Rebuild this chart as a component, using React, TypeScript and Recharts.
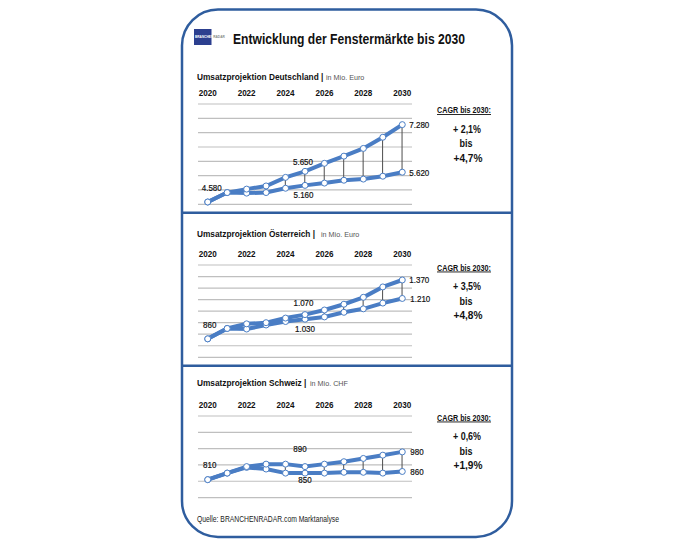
import React from "react";
import { ComposedChart, Line, Bar, XAxis, YAxis, CartesianGrid, LabelList } from "recharts";

const FONT = "'Liberation Sans', Arial, sans-serif";
const BLUE = "#4a7dc4";
const FRAME = "#2f5d9e";

const years = ["2020", "2021", "2022", "2023", "2024", "2025", "2026", "2027", "2028", "2029", "2030"];

// Deutschland, Mio. Euro
const deHigh = [4580, 4910, 5030, 5140, 5440, 5650, 5930, 6180, 6450, 6840, 7280];
const deLow = [4580, 4910, 4890, 4910, 5060, 5160, 5240, 5340, 5380, 5480, 5620];
const deTicks = [4500, 5000, 5500, 6000, 6500, 7000, 7500, 8000];

// Österreich, Mio. Euro
const atHigh = [860, 950, 990, 1000, 1040, 1070, 1110, 1160, 1220, 1310, 1370];
const atLow = [860, 950, 945, 980, 1010, 1030, 1050, 1090, 1120, 1170, 1210];
const atTicks = [700, 800, 900, 1000, 1100, 1200, 1300, 1400, 1500];

// Schweiz, Mio. CHF
const chHigh = [810, 850, 890, 905, 905, 890, 905, 920, 940, 960, 980];
const chLow = [810, 850, 885, 875, 850, 850, 850, 855, 855, 850, 860];
const chTicks = [700, 800, 900, 1000, 1100, 1200];

type Spot = [number, number, "start" | "middle" | "end"];
type LabelSpec = { high: Record<number, Spot>; low: Record<number, Spot> };

const fmt = (v: number) =>
  v >= 1000 ? `${Math.floor(v / 1000)}.${String(v % 1000).padStart(3, "0")}` : String(v);

// the original uses a condensed face, so squeeze the glyphs a bit
const squeeze = (s: string, digit: number) =>
  s.split("").reduce((w, c) => w + (c === "." ? digit * 0.5 : digit), 0);

function makeLabel(spots: Record<number, Spot>) {
  return (p: any) => {
    const s = spots[p.index];
    if (!s) return null;
    const txt = fmt(p.value);
    return (
      <text
        x={p.x + s[0]}
        y={p.y + s[1] + 3.3}
        textAnchor={s[2]}
        fontSize={9}
        fontFamily={FONT}
        fill="#111"
        stroke="#111"
        strokeWidth={0.2}
        textLength={squeeze(txt, 4.45)}
        lengthAdjust="spacingAndGlyphs"
      >
        {txt}
      </text>
    );
  };
}

function YearTick(p: any) {
  return (
    <text
      x={p.x}
      y={p.y}
      textAnchor="middle"
      fontSize={9.2}
      fontWeight={700}
      fontFamily={FONT}
      fill="#111"
      textLength={18}
      lengthAdjust="spacingAndGlyphs"
    >
      {p.payload.value}
    </text>
  );
}

function Panel({
  high,
  low,
  ticks,
  top,
  plotH,
  labels,
}: {
  high: number[];
  low: number[];
  ticks: number[];
  top: number;
  plotH: number;
  labels: LabelSpec;
}) {
  const data = years.map((y, i) => ({ year: y, high: high[i], low: low[i], hl: [low[i], high[i]] }));
  return (
    <div style={{ position: "absolute", left: 190, top: top - 40 }}>
      <ComposedChart
        width={250}
        height={plotH + 50}
        data={data}
        margin={{ top: 10, right: 28, bottom: 10, left: 8 }}
      >
        <CartesianGrid vertical={false} stroke="#bfbfbf" strokeWidth={1.2} />
        <XAxis
          dataKey="year"
          orientation="top"
          height={30}
          axisLine={false}
          tickLine={false}
          tickSize={0}
          tickMargin={7.5}
          interval={1}
          tick={<YearTick />}
        />
        <YAxis hide interval={0} domain={[ticks[0], ticks[ticks.length - 1]]} ticks={ticks} />
        <Bar dataKey="hl" barSize={1} fill="#4d4d4d" isAnimationActive={false} />
        <Line
          dataKey="low"
          stroke={BLUE}
          strokeWidth={4}
          dot={{ r: 3, fill: "#fff", stroke: BLUE, strokeWidth: 1 }}
          activeDot={false}
          isAnimationActive={false}
        >
          <LabelList dataKey="low" content={makeLabel(labels.low)} />
        </Line>
        <Line
          dataKey="high"
          stroke={BLUE}
          strokeWidth={4}
          dot={{ r: 3, fill: "#fff", stroke: BLUE, strokeWidth: 1 }}
          activeDot={false}
          isAnimationActive={false}
        >
          <LabelList dataKey="high" content={makeLabel(labels.high)} />
        </Line>
      </ComposedChart>
    </div>
  );
}

// name and unit as separate texts, sized so their natural widths do not collide
function Subtitle({ y, name, unit, unitX }: { y: number; name: string; unit: string; unitX: number }) {
  return (
    <g fontFamily={FONT}>
      <text x={197} y={y} fontSize={8.3} fontWeight={700} fill="#111">
        {name} |
      </text>
      <text x={unitX} y={y} fontSize={7.2} fill="#555">
        {unit}
      </text>
    </g>
  );
}

function Cagr({ y, from, to }: { y: number[]; from: string; to: string }) {
  return (
    <g fontFamily={FONT} fontWeight={700} fill="#111" textAnchor="middle">
      <text x={464} y={y[0]} fontSize={9} textDecoration="underline" textLength={54} lengthAdjust="spacingAndGlyphs">
        CAGR bis 2030:
      </text>
      <text x={467} y={y[1]} fontSize={11} textLength={28} lengthAdjust="spacingAndGlyphs">
        {from}
      </text>
      <text x={466} y={y[2]} fontSize={11} textLength={13} lengthAdjust="spacingAndGlyphs">
        bis
      </text>
      <text x={468} y={y[3]} fontSize={11} textLength={29} lengthAdjust="spacingAndGlyphs">
        {to}
      </text>
    </g>
  );
}

export default function App() {
  return (
    <div style={{ position: "absolute", left: 0, top: 0, width: 690, height: 546, background: "#fff" }}>
      <Panel
        high={deHigh}
        low={deLow}
        ticks={deTicks}
        top={104}
        plotH={100.3}
        labels={{
          high: { 0: [4, -14.6, "middle"], 5: [-2, -10, "middle"], 10: [7, 0, "start"] },
          low: { 5: [-1.5, 9, "middle"], 10: [7, 0, "start"] },
        }}
      />
      <Panel
        high={atHigh}
        low={atLow}
        ticks={atTicks}
        top={265}
        plotH={92.3}
        labels={{
          high: { 0: [2, -14, "middle"], 5: [-1.5, -12, "middle"], 10: [7, 0, "start"] },
          low: { 5: [0, 9.3, "middle"], 10: [8, 0, "start"] },
        }}
      />
      <Panel
        high={chHigh}
        low={chLow}
        ticks={chTicks}
        top={415.7}
        plotH={81.6}
        labels={{
          high: { 0: [2, -14.7, "middle"], 5: [-5, -17.7, "middle"], 10: [8, 0, "start"] },
          low: { 5: [0, 6.5, "middle"], 10: [8, 0, "start"] },
        }}
      />
      <svg
        width={690}
        height={546}
        style={{ position: "absolute", left: 0, top: 0, pointerEvents: "none" }}
      >
        <rect x={182} y={9.5} width={330} height={527.5} rx={36} fill="none" stroke={FRAME} strokeWidth={2.5} />
        <line x1={182} x2={511} y1={212.7} y2={212.7} stroke={FRAME} strokeWidth={2.5} />
        <line x1={182} x2={511} y1={365.7} y2={365.7} stroke={FRAME} strokeWidth={2.5} />
        <rect x={194} y={29} width={17.5} height={16} fill="#2c3f8f" />
        <text x={195} y={38.3} fontSize={3.2} fontFamily={FONT} fontWeight={700} fill="#fff">
          BRANCHEN<tspan fill="#888">RADAR</tspan>
        </text>
        <text
          x={233}
          y={44}
          fontSize={14.6}
          fontWeight={700}
          fontFamily={FONT}
          fill="#111"
          textLength={232}
          lengthAdjust="spacingAndGlyphs"
        >
          Entwicklung der Fenstermärkte bis 2030
        </text>
        <Subtitle y={80.3} name="Umsatzprojektion Deutschland" unit="in Mio. Euro" unitX={326} />
        <Subtitle y={236.7} name="Umsatzprojektion Österreich" unit="in Mio. Euro" unitX={321} />
        <Subtitle y={385.7} name="Umsatzprojektion Schweiz" unit="in Mio. CHF" unitX={310} />
        <Cagr y={[113, 132.5, 147, 162]} from="+ 2,1%" to="+4,7%" />
        <Cagr y={[270.5, 290, 305, 319]} from="+ 3,5%" to="+4,8%" />
        <Cagr y={[420.5, 440, 455, 469]} from="+ 0,6%" to="+1,9%" />
        <text
          x={197}
          y={521.5}
          fontSize={9}
          fontFamily={FONT}
          fill="#222"
          textLength={142}
          lengthAdjust="spacingAndGlyphs"
        >
          Quelle: BRANCHENRADAR.com Marktanalyse
        </text>
      </svg>
    </div>
  );
}
